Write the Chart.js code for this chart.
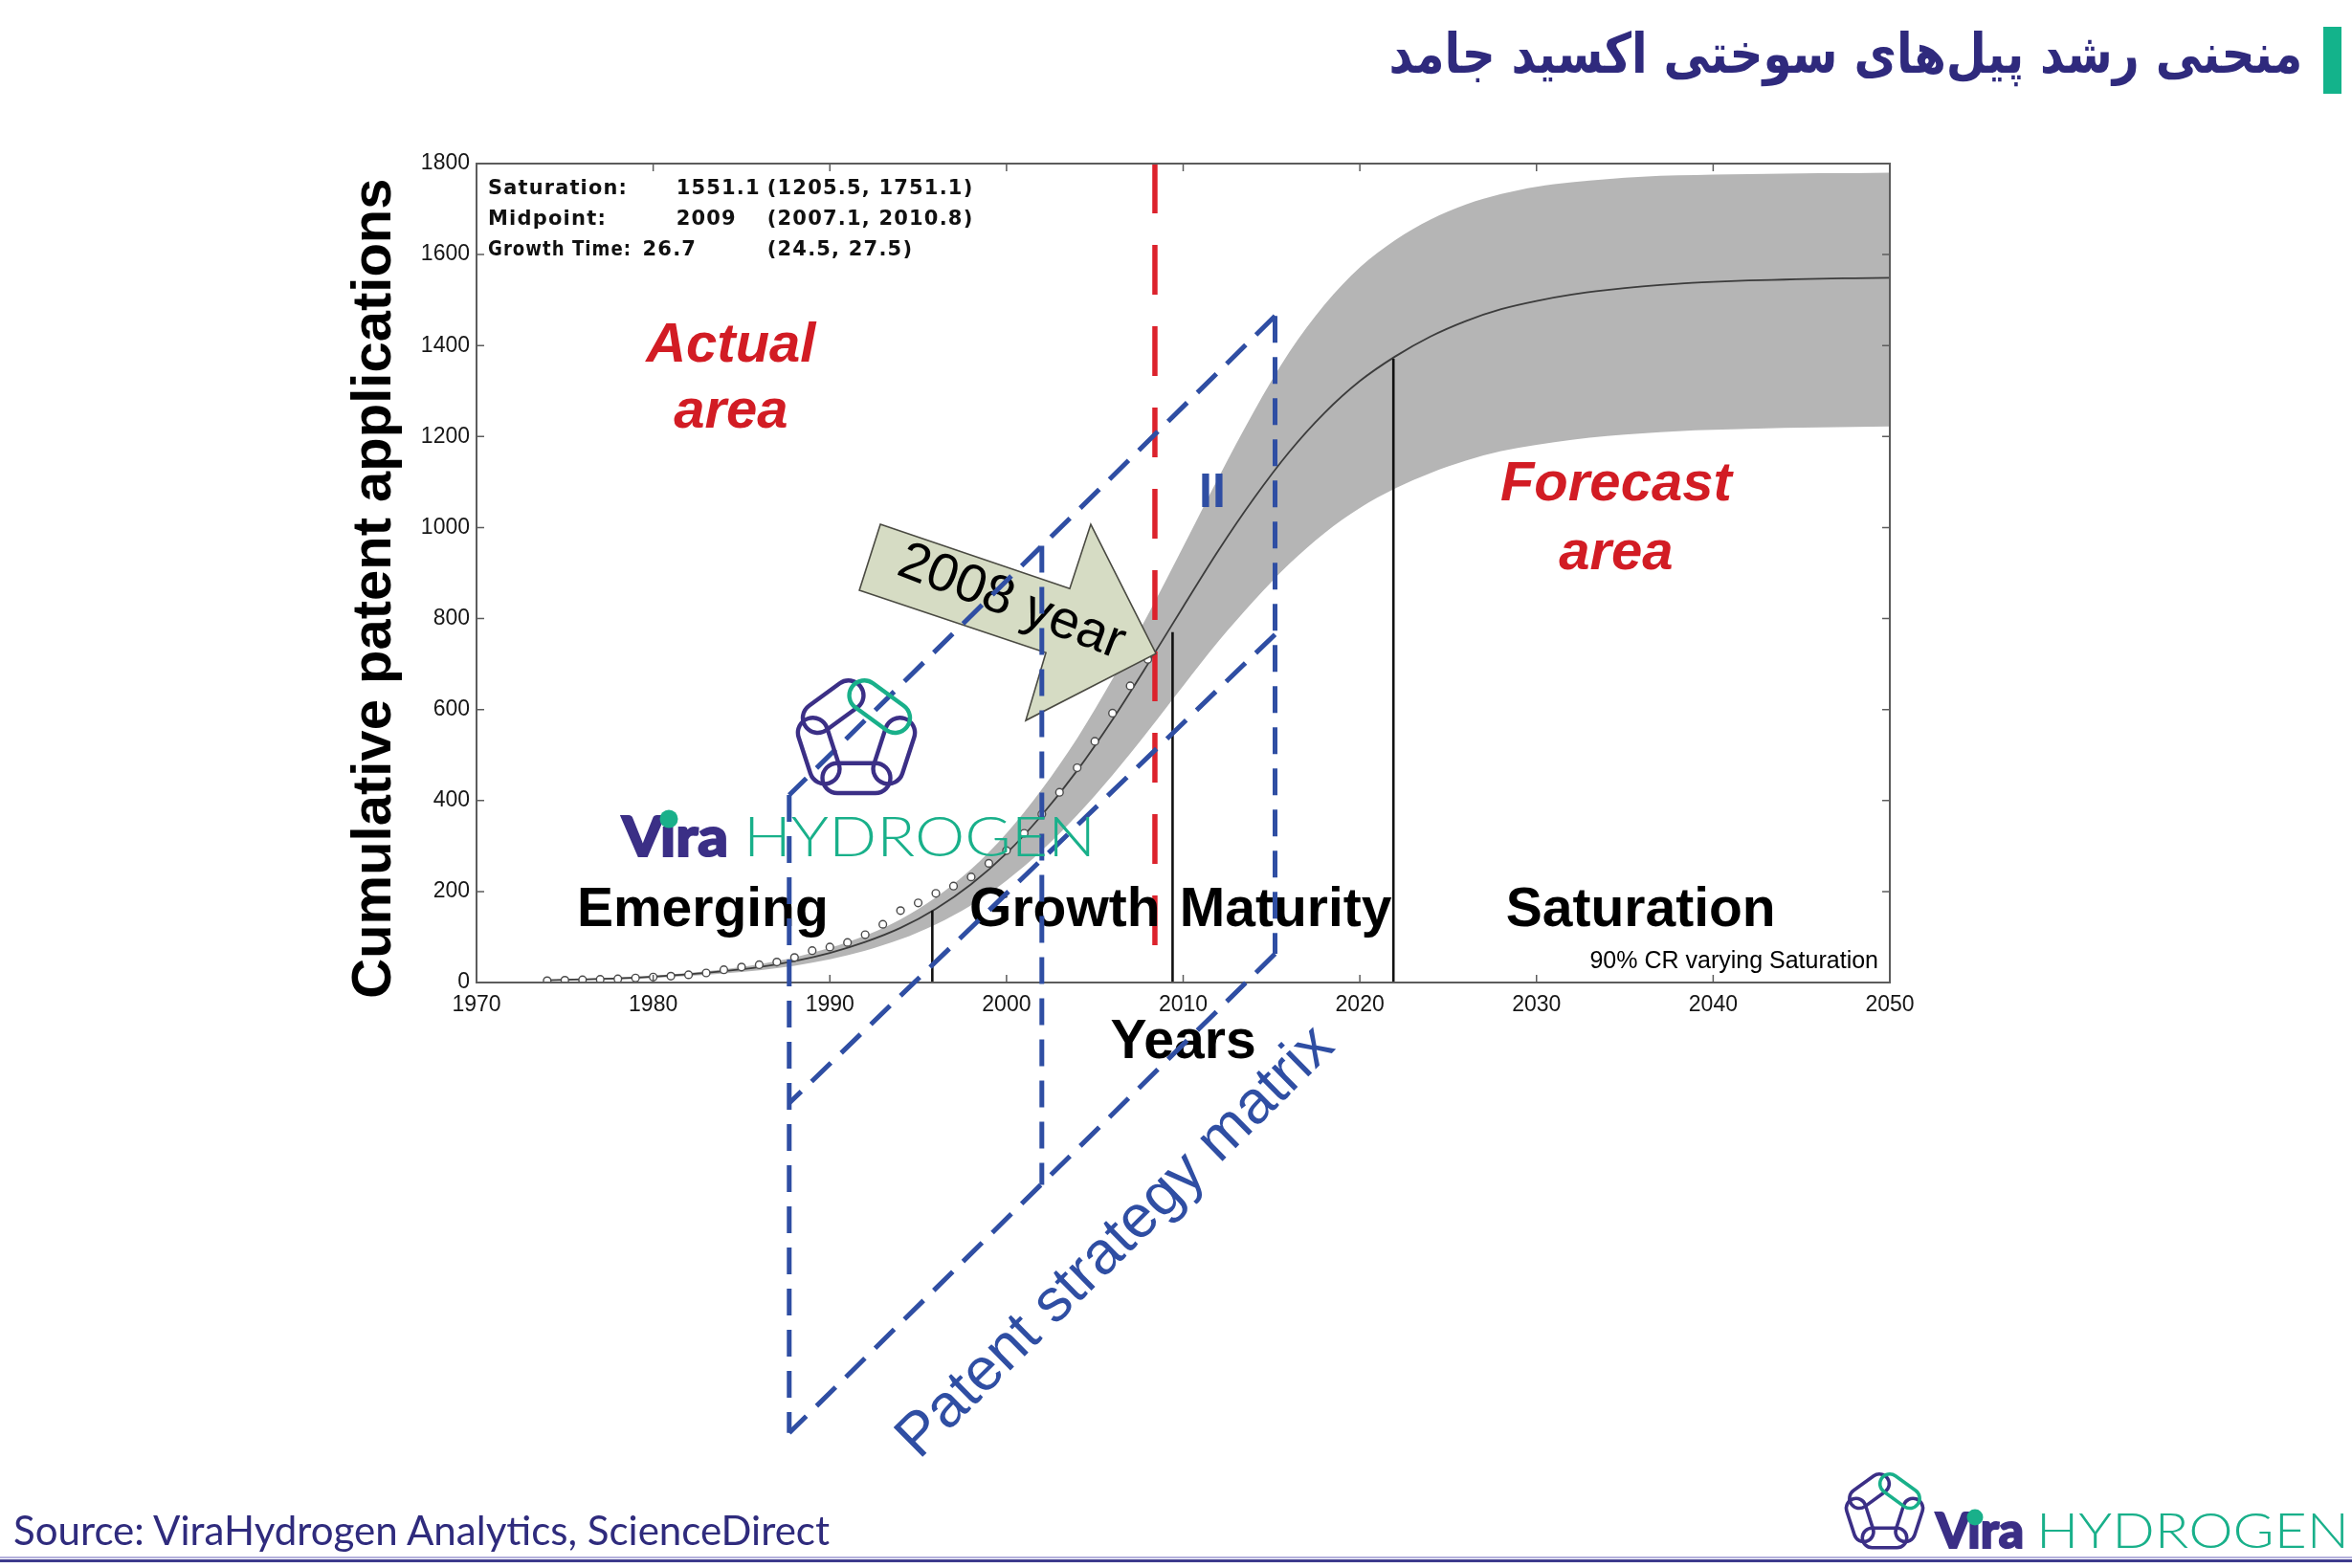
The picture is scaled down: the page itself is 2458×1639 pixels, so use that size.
<!DOCTYPE html>
<html><head><meta charset="utf-8">
<script src="https://cdn.jsdelivr.net/npm/chart.js@4.4.0/dist/chart.umd.min.js"></script>
<style>
html,body{margin:0;padding:0;background:#fff;}
body{width:2458px;height:1639px;position:relative;overflow:hidden;}
#c{position:absolute;left:0;top:0;}
#title{position:absolute;right:52px;top:27px;font-family:'DejaVu Sans','Noto Sans',sans-serif;font-weight:bold;font-size:58px;line-height:1;color:#2f2a7d;white-space:nowrap;transform-origin:right center;}
#ov{position:absolute;left:0;top:0;pointer-events:none;}
</style></head>
<body>
<canvas id="c" width="2458" height="1639"></canvas>
<div id="title" dir="rtl">منحنی رشد پیل‌های سوختی اکسید جامد</div>
<svg id="ov" width="2458" height="1639" xmlns="http://www.w3.org/2000/svg">
  <defs>
    <g id="icon" fill="none">
      <rect x="-25" y="-11" width="50" height="22" rx="11" transform="translate(32.9,26.5) rotate(-36)" stroke="#3b2f86"/>
      <rect x="-25" y="-11" width="50" height="22" rx="11" transform="translate(22.3,59) rotate(72)" stroke="#3b2f86"/>
      <rect x="-25" y="-11" width="50" height="22" rx="11" transform="translate(50,79.1)" stroke="#3b2f86"/>
      <rect x="-25" y="-11" width="50" height="22" rx="11" transform="translate(77.7,59) rotate(108)" stroke="#3b2f86"/>
      <rect x="-25" y="-11" width="50" height="22" rx="11" transform="translate(67.1,26.5) rotate(36)" stroke="#19b08a"/>
    </g>
  </defs>
  <rect x="2428" y="28" width="19" height="70" fill="#13b38b"/>
  <!-- watermark -->
  <use href="#icon" transform="translate(824,701) scale(1.42)" stroke-width="3.1"/>
  <text x="650" y="895" font-family="Lato" font-weight="900" font-size="58" fill="#3b2f86" stroke="#3b2f86" stroke-width="2" textLength="111" lengthAdjust="spacingAndGlyphs">Vıra</text>
  <circle cx="699" cy="856" r="9.5" fill="#19b08a"/>
  <text x="777" y="895" font-family="Lato" font-weight="300" font-size="58" fill="#19b08a" textLength="368" lengthAdjust="spacingAndGlyphs">HYDROGEN</text>
  <!-- footer -->
  <text x="14" y="1615" font-family="Lato" font-size="42" fill="#2f2b7d" textLength="853" lengthAdjust="spacingAndGlyphs">Source: ViraHydrogen Analytics, ScienceDirect</text>
  <use href="#icon" transform="translate(1923,1534) scale(0.93)" stroke-width="3.8"/>
  <text x="2023" y="1618" font-family="Lato" font-weight="900" font-size="52" fill="#3b2f86" stroke="#3b2f86" stroke-width="2" textLength="92" lengthAdjust="spacingAndGlyphs">Vıra</text>
  <circle cx="2064" cy="1586" r="8.5" fill="#19b08a"/>
  <text x="2128" y="1618" font-family="Lato" font-weight="300" font-size="52" fill="#19b08a" textLength="327" lengthAdjust="spacingAndGlyphs">HYDROGEN</text>
  <rect x="0" y="1627" width="2458" height="2" fill="#b3b0dc"/>
  <rect x="0" y="1630" width="2458" height="3" fill="#3d3a8c"/>
</svg>
<script>
// ---------- data ----------
const fitYears = [1974,1976,1978,1980,1982,1984,1986,1988,1990,1992,1994,1996,1998,2000,2002,2004,2006,2008,2010,2012,2014,2016,2018,2020,2022,2024,2026,2028,2030,2032,2034,2036,2038,2040,2042,2044,2046,2048,2050];
const fitValues = [5,7,9,13,18,25,34,47,65,89,120,162,216,284,368,466,578,700,826,950,1064,1166,1252,1322,1376,1420,1454,1480,1498,1512,1522,1530,1536,1540,1543,1545,1547,1548,1549];
const upperValues = [6,8,11,15,21,29,40,55,76,103,139,187,249,328,425,537,667,808,958,1110,1255,1385,1490,1572,1632,1677,1710,1733,1749,1759,1766,1771,1774,1776,1777,1778,1779,1779,1780];
const lowerValues = [4,5.5,7,10,14,20,27,37,51,70,95,128,170,224,290,368,456,552,652,750,839,920,988,1043,1086,1120,1147,1168,1182,1193,1201,1207,1212,1215,1217,1219,1220,1221,1222];
const obsYears = [1974,1975,1976,1977,1978,1979,1980,1981,1982,1983,1984,1985,1986,1987,1988,1989,1990,1991,1992,1993,1994,1995,1996,1997,1998,1999,2000,2001,2002,2003,2004,2005,2006,2007,2008];
const obsValues = [4,5,6,7,8,10,12,14,17,21,28,34,39,45,55,70,78,88,105,128,158,175,196,212,232,262,290,328,370,418,472,530,592,652,710];
const stageYears = [1995.8, 2009.4, 2021.9];
const stageTops = [158, 770, 1371];
const cutoffYear = 2008.4;
const cutoffSpan = [1800, 67];
const xTicks = [1970,1980,1990,2000,2010,2020,2030,2040,2050];
const yTicks = [0,200,400,600,800,1000,1200,1400,1600,1800];
const stageNames = ['Emerging','Growth','Maturity','Saturation'];
const statNames = ['Saturation:','Midpoint:','Growth Time:'];
const statValues = ['1551.1','2009','26.7'];
const statRanges = ['(1205.5, 1751.1)','(2007.1, 2010.8)','(24.5, 27.5)'];
const areaTexts = [['Actual','area'],['Forecast','area']];
const matrixYears = [1987.7, 2002.0, 2015.2];
const matrixTops = [412, 960, 1465];
const matrixBottoms = [-990, -445, 63];
const diagStarts = [412, -265, -990];
const diagEnds = [1465, 765, 63];
const arrowYears = [1992.86, 2003.58, 2004.77, 2008.46, 2001.09, 2002.23, 1991.67];
const arrowValues = [1007, 866, 1007, 723, 576, 725, 862];

// ---------- styles / positions ----------
const BLUE = '#2f4ea3', RED = '#d21c24';
const FONT = "'Liberation Sans', Arial, sans-serif";

const overlay = {
  id: 'overlay',
  afterDatasetsDraw(chart) {
    const {ctx, chartArea: a, scales: {x, y}} = chart;
    const X = v => x.getPixelForValue(v), Y = v => y.getPixelForValue(v);
    ctx.save();
    // frame + inward ticks
    ctx.strokeStyle = '#5c5c5c'; ctx.lineWidth = 2;
    ctx.strokeRect(a.left, a.top, a.right - a.left, a.bottom - a.top);
    ctx.lineWidth = 1.5; ctx.beginPath();
    xTicks.forEach(v => { const p = X(v); ctx.moveTo(p, a.bottom); ctx.lineTo(p, a.bottom - 8); ctx.moveTo(p, a.top); ctx.lineTo(p, a.top + 8); });
    yTicks.forEach(v => { const p = Y(v); ctx.moveTo(a.left, p); ctx.lineTo(a.left + 8, p); ctx.moveTo(a.right, p); ctx.lineTo(a.right - 8, p); });
    ctx.stroke();

    // stats box text
    ctx.fillStyle = '#111';
    ctx.font = "bold 21px 'DejaVu Sans', sans-serif";
    if ('letterSpacing' in ctx) ctx.letterSpacing = '1.2px';
    ctx.textAlign = 'left'; ctx.textBaseline = 'alphabetic';
    const statBase = [1733, 1665, 1598];
    const nameWidth = [146, 132, 150];
    const valueX = [1981.3, 1981.3, 1979.4];
    statNames.forEach((n, i) => {
      const by = Y(statBase[i]);
      ctx.fillText(n, X(1970.65), by, nameWidth[i]);
      ctx.fillText(statValues[i], X(valueX[i]), by);
      ctx.fillText(statRanges[i], X(1986.45), by);
    });
    if ('letterSpacing' in ctx) ctx.letterSpacing = '0px';

    // stage labels
    ctx.fillStyle = '#000'; ctx.textAlign = 'center';
    ctx.font = `bold 57px ${FONT}`;
    const stageX = [1982.8, 2003.3, 2015.8, 2035.9];
    stageNames.forEach((s, i) => ctx.fillText(s, X(stageX[i]), Y(124)));

    // 90% CR label
    ctx.font = `25px ${FONT}`; ctx.textAlign = 'right';
    ctx.fillText('90% CR varying Saturation', X(2049.35), Y(31));

    // actual / forecast area
    ctx.fillStyle = RED; ctx.textAlign = 'center';
    ctx.font = `italic bold 58px ${FONT}`;
    const areaPos = [[1984.4, 1365, 1220], [2034.5, 1060, 908]];
    areaTexts.forEach((t, i) => { ctx.fillText(t[0], X(areaPos[i][0]), Y(areaPos[i][1])); ctx.fillText(t[1], X(areaPos[i][0]), Y(areaPos[i][2])); });

    // 2008 arrow
    ctx.beginPath();
    arrowYears.forEach((yr, i) => { const px = X(yr), py = Y(arrowValues[i]); i ? ctx.lineTo(px, py) : ctx.moveTo(px, py); });
    ctx.closePath();
    ctx.fillStyle = '#d6dcc4'; ctx.fill();
    ctx.strokeStyle = '#4a4a42'; ctx.lineWidth = 1.6; ctx.stroke();
    ctx.save();
    ctx.translate(X(2000.28), Y(835)); ctx.rotate(21 * Math.PI / 180);
    ctx.fillStyle = '#000'; ctx.font = `56px ${FONT}`; ctx.textAlign = 'center'; ctx.textBaseline = 'middle';
    ctx.fillText('2008 year', 0, 0);
    ctx.restore();

    // patent strategy matrix (dashed blue)
    ctx.strokeStyle = BLUE; ctx.lineWidth = 5; ctx.setLineDash([28, 15]); ctx.lineCap = 'butt';
    const seg = (x1, y1, x2, y2) => { ctx.beginPath(); ctx.moveTo(X(x1), Y(y1)); ctx.lineTo(X(x2), Y(y2)); ctx.stroke(); };
    matrixYears.forEach((yr, i) => seg(yr, matrixTops[i], yr, matrixBottoms[i]));
    diagStarts.forEach((v, i) => seg(matrixYears[2], diagEnds[i], matrixYears[0], v));
    ctx.setLineDash([]);
    ctx.fillStyle = BLUE; ctx.textAlign = 'center'; ctx.textBaseline = 'middle';
    ctx.font = `bold 50px ${FONT}`;
    ctx.fillText('II', X(2011.65), Y(1075));
    const ang = Math.atan2(Y(diagEnds[2]) - Y(diagStarts[2]), X(matrixYears[2]) - X(matrixYears[0]));
    ctx.save();
    ctx.translate(X(2006.2), Y(-572)); ctx.rotate(ang);
    ctx.font = `63px ${FONT}`;
    ctx.fillText('Patent strategy matrix', 0, 0);
    ctx.restore();
    ctx.restore();
  }
};

const pts = (xs, ys) => xs.map((v, i) => ({x: v, y: ys[i]}));
const datasets = [
  {label: 'upper', data: pts(fitYears, upperValues), borderWidth: 0, pointRadius: 0, fill: '+1', backgroundColor: '#b5b5b5', cubicInterpolationMode: 'monotone', order: 10},
  {label: 'lower', data: pts(fitYears, lowerValues), borderWidth: 0, pointRadius: 0, fill: false, cubicInterpolationMode: 'monotone', order: 11},
  {label: 'fit', data: pts(fitYears, fitValues), borderColor: '#3c3c3c', borderWidth: 1.8, pointRadius: 0, fill: false, cubicInterpolationMode: 'monotone', order: 5},
  {label: 'observed', data: pts(obsYears, obsValues), showLine: false, pointRadius: 3.9, pointBackgroundColor: '#fff', pointBorderColor: '#4a4a4a', pointBorderWidth: 1.4, order: 4},
  ...stageYears.map((yr, i) => ({label: 'stage' + i, data: [{x: yr, y: 0}, {x: yr, y: stageTops[i]}], borderColor: '#111', borderWidth: 2.6, pointRadius: 0, fill: false, order: 3})),
  {label: 'cutoff', data: [{x: cutoffYear, y: cutoffSpan[0]}, {x: cutoffYear, y: cutoffSpan[1]}], borderColor: '#dc222c', borderWidth: 5.5, borderDash: [52, 33], pointRadius: 0, fill: false, order: 1}
];

new Chart(document.getElementById('c'), {
  type: 'line',
  data: {datasets},
  options: {
    responsive: false, animation: false, events: [],
    layout: {padding: {left: 357, top: 171, right: 483, bottom: 515}},
    plugins: {legend: {display: false}, tooltip: {enabled: false}},
    scales: {
      x: {
        type: 'linear', min: 1970, max: 2050,
        afterBuildTicks: s => { s.ticks = xTicks.map(v => ({value: v})); },
        afterFit: s => { s.height = 97; },
        grid: {display: false, drawTicks: false}, border: {display: false},
        ticks: {padding: 10, maxRotation: 0, autoSkip: false, color: '#161616', font: {family: FONT, size: 23}, callback: v => String(v)},
        title: {display: true, text: 'Years', color: '#000', font: {family: FONT, size: 57, weight: 'bold'}, padding: {top: 0, bottom: 0}}
      },
      y: {
        type: 'linear', min: 0, max: 1800,
        afterBuildTicks: s => { s.ticks = yTicks.map(v => ({value: v})); },
        afterFit: s => { s.width = 141; },
        grid: {display: false, drawTicks: false}, border: {display: false},
        ticks: {padding: 7, autoSkip: false, color: '#161616', font: {family: FONT, size: 23}, callback: v => String(v)},
        title: {display: true, text: 'Cumulative patent applications  ', color: '#000', font: {family: FONT, size: 58, weight: 'bold'}, padding: {top: 0, bottom: 0}}
      }
    }
  },
  plugins: [overlay]
});

function fitTitle() {
  const el = document.getElementById('title');
  el.style.transform = 'none';
  const w = el.getBoundingClientRect().width;
  if (w > 0) el.style.transform = `scaleX(${955 / w})`;
}
fitTitle();
if (document.fonts && document.fonts.ready) document.fonts.ready.then(fitTitle);
</script>
</body></html>
